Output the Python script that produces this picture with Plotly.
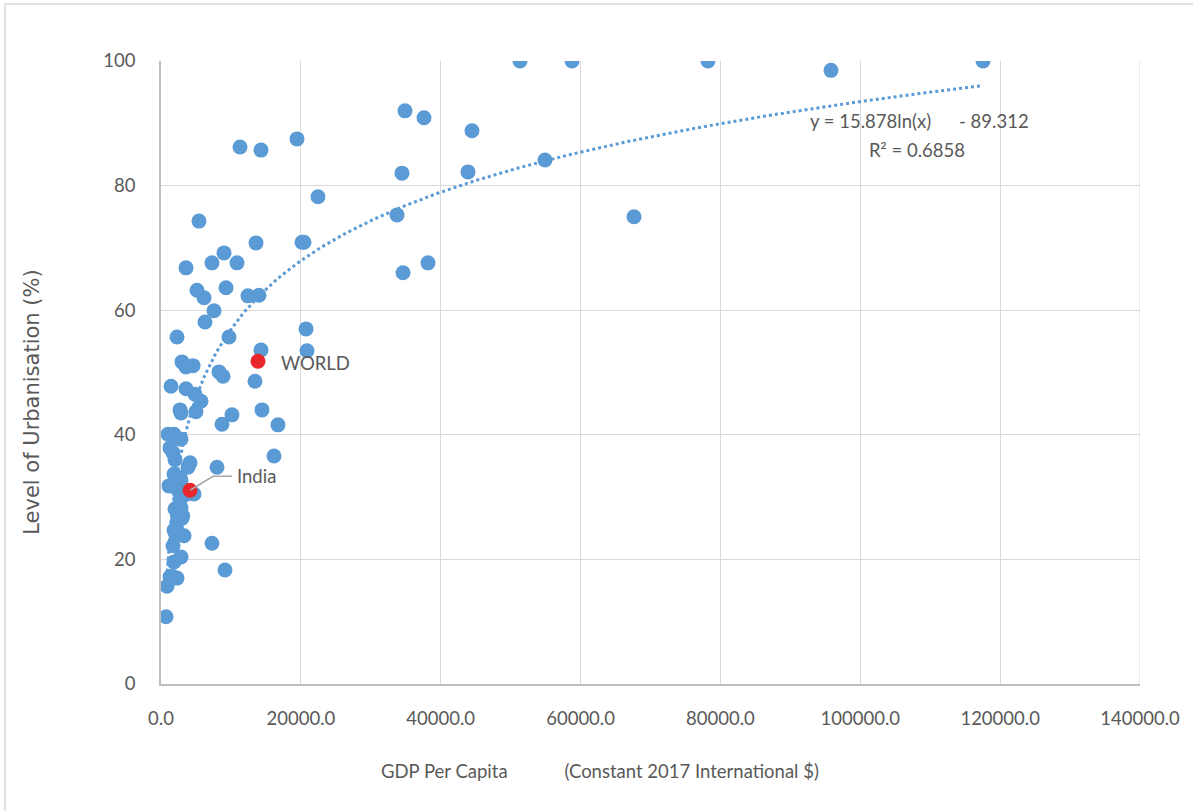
import numpy as np
import plotly.graph_objects as go

# GDP per capita (constant 2017 international $) and urbanisation level (%) by country
gdp_pc = [51340, 58780, 78220, 95810, 117550, 34890, 37610, 44470, 19450, 11300,
          14300, 54910, 34460, 43900, 22450, 67640, 33750, 5430, 13590, 20160,
          20450, 9010, 3580, 7290, 10870, 38180, 34610, 5150, 9300, 12440,
          14020, 6150, 7580, 6290, 20740, 9720, 2290, 14300, 20880, 3000,
          4580, 3580, 8290, 8870, 13440, 1430, 3580, 4860, 5720, 2720,
          2860, 5000, 14440, 10150, 8720, 16730, 1000, 1860, 1570, 2860,
          1290, 1720, 16160, 2000, 4150, 3860, 8010, 1860, 2720, 2860,
          1140, 4720, 3720, 2720, 2860, 2290, 2000, 3000, 2290, 2290,
          3290, 1860, 2150, 7290, 1720, 2860, 1860, 9150, 1290, 2290,
          860, 720, 1600, 2500, 3100]
urban_pct = [100, 100, 100, 98.5, 100, 92.0, 90.9, 88.8, 87.5, 86.2,
             85.7, 84.1, 82.0, 82.2, 78.2, 75.0, 75.3, 74.3, 70.8, 70.9,
             70.9, 69.2, 66.8, 67.6, 67.6, 67.6, 66.0, 63.2, 63.6, 62.3,
             62.4, 62.0, 59.9, 58.1, 57.0, 55.7, 55.7, 53.6, 53.5, 51.7,
             51.1, 50.9, 50.1, 49.4, 48.6, 47.8, 47.4, 46.5, 45.4, 44.0,
             43.5, 43.7, 44.0, 43.2, 41.7, 41.6, 40.1, 40.1, 39.8, 39.3,
             37.9, 37.1, 36.6, 36.0, 35.5, 34.8, 34.8, 33.7, 33.2, 32.7,
             31.8, 30.5, 30.5, 29.5, 28.3, 27.9, 28.1, 26.6, 26.0, 24.7,
             23.8, 24.7, 23.8, 22.6, 22.2, 20.4, 19.6, 18.3, 17.2, 17.0,
             15.7, 10.8, 17.3, 31.0, 27.0]

# Highlighted entries
world_gdp, world_urban = 13870, 51.8
india_gdp, india_urban = 4150, 31.1

# Logarithmic trendline coefficients: y = a*ln(x) + b
trend_a, trend_b, trend_r2 = 15.878, -89.312, 0.6858

x_ticks = [0, 20000, 40000, 60000, 80000, 100000, 120000, 140000]
y_ticks = [0, 20, 40, 60, 80, 100]

x_title = "GDP Per Capita            (Constant 2017 International $)"
y_title = "Level of Urbanisation (%)"

blue = "#5B9BD5"
red = "#E8262B"
txt = "#595959"
grid = "#D9D9D9"

trend_x = np.linspace(min(gdp_pc), max(gdp_pc), 400)
trend_y = trend_a * np.log(trend_x) + trend_b

fig = go.Figure()
fig.add_trace(go.Scatter(x=gdp_pc, y=urban_pct, mode="markers",
                         marker=dict(color=blue, size=15, line=dict(width=0)),
                         hoverinfo="x+y"))
fig.add_trace(go.Scatter(x=trend_x, y=trend_y, mode="lines",
                         line=dict(color=blue, width=3, dash="dot"),
                         hoverinfo="skip"))
fig.add_trace(go.Scatter(x=[world_gdp, india_gdp], y=[world_urban, india_urban],
                         mode="markers", marker=dict(color=red, size=15, line=dict(width=0)),
                         hoverinfo="x+y"))

font_main = "Lato, Carlito, Calibri, sans-serif"
fs = 18.5

fig.update_layout(
    width=1193, height=811,
    margin=dict(l=161, r=53, t=61, b=127),
    paper_bgcolor="white", plot_bgcolor="white",
    showlegend=False,
    font=dict(family=font_main, size=fs, color=txt),
    xaxis=dict(range=[0, 140000], tickvals=x_ticks, tickformat=".1f",
               showgrid=True, gridcolor=grid, gridwidth=1,
               showline=True, linecolor="#BFBFBF", linewidth=1.5,
               zeroline=False, ticks="", ticklabelstandoff=17,
               tickfont=dict(family=font_main, size=fs, color=txt)),
    yaxis=dict(range=[0, 100], tickvals=y_ticks,
               showgrid=True, gridcolor=grid, gridwidth=1,
               showline=True, linecolor="#BFBFBF", linewidth=1.5,
               zeroline=False, ticks="", ticklabelstandoff=20,
               tickfont=dict(family=font_main, size=fs, color=txt)),
)

# axis titles
fig.add_annotation(xref="paper", yref="paper", x=0.448, y=-0.1397, text=x_title,
                   showarrow=False, xanchor="center", yanchor="middle",
                   font=dict(family=font_main, size=fs, color=txt))
fig.add_annotation(xref="paper", yref="paper", x=-0.1318, y=0.453, text=y_title,
                   showarrow=False, textangle=-90, xanchor="center", yanchor="middle",
                   font=dict(family="DejaVu Sans, Verdana, sans-serif", size=21, color=txt))

# right edge of the plotting area
fig.add_shape(type="line", xref="x", yref="paper", x0=140000, x1=140000, y0=0, y1=1,
              line=dict(color=grid, width=1))

# outer chart frame
fig.add_shape(type="rect", xref="paper", yref="paper",
              x0=-0.1593, x1=1.06, y0=-0.21, y1=1.0915,
              line=dict(color=grid, width=1.5), layer="below")

# leader line for the India label
fig.add_shape(type="path", xref="x", yref="y", xsizemode="pixel", ysizemode="pixel",
              xanchor=india_gdp, yanchor=india_urban,
              path="M 0 0 L 23 14 L 42 14", line=dict(color="#A6A6A6", width=1.5))

fig.add_annotation(x=india_gdp, y=india_urban, xref="x", yref="y", text="India",
                   showarrow=False, xanchor="left", xshift=45, yshift=14,
                   font=dict(family=font_main, size=fs, color=txt))
fig.add_annotation(x=world_gdp, y=world_urban, xref="x", yref="y", text="WORLD",
                   showarrow=False, xanchor="left", xshift=21, yshift=-2,
                   font=dict(family=font_main, size=fs, color=txt))

# trendline equation and fit quality
fig.add_annotation(x=101530, y=90.4, xref="x", yref="y",
                   text=f"y = {trend_a}ln(x)", showarrow=False,
                   font=dict(family=font_main, size=fs, color=txt))
fig.add_annotation(x=119120, y=90.4, xref="x", yref="y",
                   text=f"- {abs(trend_b)}", showarrow=False,
                   font=dict(family=font_main, size=fs, color=txt))
fig.add_annotation(x=108110, y=85.7, xref="x", yref="y",
                   text=f"R² = {trend_r2}", showarrow=False,
                   font=dict(family=font_main, size=fs, color=txt))

fig.write_html("out.html")
